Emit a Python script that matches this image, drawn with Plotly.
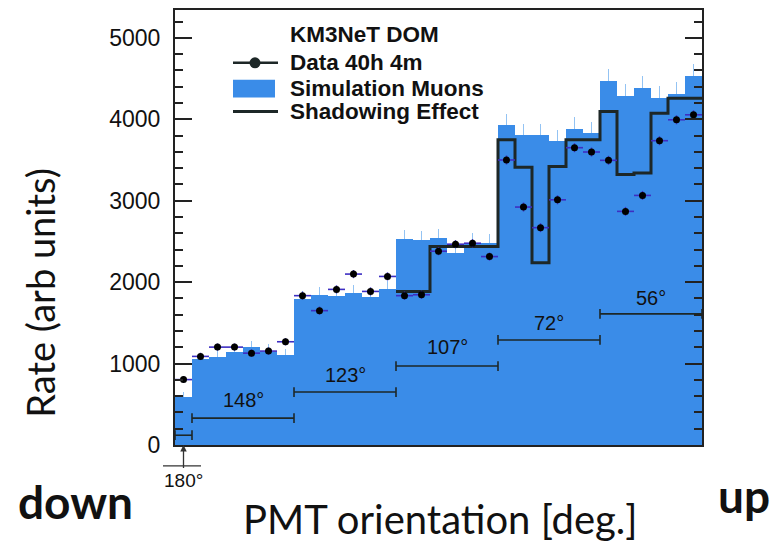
import plotly.graph_objects as go

# ---------------- data ----------------
pmt_index = list(range(31))  # PMT bins ordered from down (180 deg) to up

sim_muons = [590, 1051, 1080, 1137, 1202, 1145, 1104,
             1793, 1846, 1825, 1867, 1813, 1911,
             2534, 2518, 2547, 2363, 2482, 2486,
             3924, 3810, 3802, 3737, 3879, 3830,
             4474, 4287, 4380, 4263, 4312, 4532]
sim_err = [55, 70, 72, 75, 75, 90, 72,
           95, 100, 95, 100, 95, 106,
           106, 110, 110, 105, 120, 110,
           140, 135, 140, 134, 143, 131,
           143, 147, 152, 150, 150, 147]
data_rate = [803, 1088, 1202, 1202, 1128, 1153, 1268,
             1834, 1650, 1911, 2099, 1886, 2070,
             1834, 1845, 2380, 2466, 2478, 2314,
             3500, 2922, 2669, 3011, 3651, 3598,
             3496, 2869, 3065, 3737, 3994, 4055]
data_err = [40, 45, 45, 45, 45, 45, 45,
            50, 50, 50, 50, 50, 50,
            50, 50, 50, 50, 50, 50,
            55, 55, 55, 55, 55, 55,
            55, 55, 55, 55, 55, 55]
shadow_first_bin = 13
shadow_rate = [1886, 1886, 2437, 2437, 2437, 2437,
               3749, 3411, 2237, 3419, 3749, 3749,
               4095, 3321, 3341, 4075, 4258, 4258]

ring_labels = ["180°", "148°", "123°", "107°", "72°", "56°"]
ring_first = [0, 1, 7, 13, 19, 25]
ring_last = [1, 7, 13, 19, 25, 31]
ring_bracket_y = [120, 330, 650, 970, 1290, 1610]
ring_label_y = [0, 550, 856, 1198, 1504, 1809]

BLUE = "#3a8ce8"
LIGHT = "#93c3f3"
DARK = "#1d2727"
PURPLE = "#3d2ec2"

W, H = 775, 542
ML, MR, MT, MB = 175, 73, 8, 97
PW, PH = W - ML - MR, H - MT - MB


def px(xp):
    return (xp - ML) / PW


def py(yp):
    return (H - MB - yp) / PH


centers = [i + 0.5 for i in pmt_index]

fig = go.Figure()

fig.add_trace(go.Bar(
    x=centers, y=sim_muons, width=1.0,
    marker=dict(color=BLUE, line=dict(width=0)),
    error_y=dict(type="data", array=sim_err, arrayminus=[0] * len(sim_err),
                 color=LIGHT, thickness=1.6, width=0),
    showlegend=False, hoverinfo="skip",
))

sx = [i for i in range(shadow_first_bin, shadow_first_bin + len(shadow_rate) + 1)]
sy = shadow_rate + [shadow_rate[-1]]
fig.add_trace(go.Scatter(
    x=sx, y=sy, mode="lines", line=dict(color=DARK, width=3, shape="hv"),
    showlegend=False, hoverinfo="skip", cliponaxis=False,
))

fig.add_trace(go.Scatter(
    x=centers, y=data_rate, mode="markers",
    marker=dict(color="black", size=7),
    error_x=dict(type="constant", value=0.5, color=PURPLE, thickness=1.6, width=0),
    error_y=dict(type="data", array=data_err, color=PURPLE, thickness=1.4, width=0),
    showlegend=False, hoverinfo="skip",
))

shapes = []
annotations = []

# ring brackets
for lab, a, b, yb, yl in zip(ring_labels, ring_first, ring_last, ring_bracket_y, ring_label_y):
    shapes.append(dict(type="line", xref="x", yref="y", x0=a, x1=b, y0=yb, y1=yb,
                       line=dict(color=DARK, width=1.6)))
    for xe in (a, b):
        shapes.append(dict(type="line", xref="x", yref="y", x0=xe, x1=xe,
                           y0=yb - 60, y1=yb + 60, line=dict(color=DARK, width=1.6)))
    if a > 0:
        annotations.append(dict(x=(a + b) / 2, y=yl, xref="x", yref="y", text=lab,
                                showarrow=False, xanchor="center",
                                font=dict(family="Liberation Sans, Arial", size=20, color="#111")))

# 180 deg marker below the axis
annotations.append(dict(x=0.5, y=0, xref="x", yref="y", text="180°", showarrow=True,
                        ax=0, ay=35, arrowhead=2, arrowsize=1, arrowwidth=1.3,
                        arrowcolor="#333", xanchor="center",
                        font=dict(family="Liberation Sans, Arial", size=19, color="#111")))
shapes.append(dict(type="line", xref="paper", yref="paper", x0=px(163), x1=px(201),
                   y0=py(466), y1=py(466), line=dict(color="#333", width=1.3)))

# legend (drawn manually)
lg_font = dict(family="Liberation Sans, Arial", size=22.5, color="#111")
shapes.append(dict(type="line", xref="paper", yref="paper", x0=px(233), x1=px(278),
                   y0=py(61), y1=py(61), line=dict(color=DARK, width=2.5)))
shapes.append(dict(type="circle", xref="paper", yref="paper", x0=px(249.5), x1=px(260.5),
                   y0=py(66.5), y1=py(55.5), fillcolor=DARK, line=dict(color=DARK, width=0)))
shapes.append(dict(type="rect", xref="paper", yref="paper", x0=px(233), x1=px(275),
                   y0=py(96), y1=py(78), fillcolor=BLUE, line=dict(width=0)))
shapes.append(dict(type="line", xref="paper", yref="paper", x0=px(233), x1=px(278),
                   y0=py(110), y1=py(110), line=dict(color=DARK, width=3)))
for txt, yy in [("KM3NeT DOM", 33), ("Data 40h 4m", 61),
                ("Simulation Muons", 87), ("Shadowing Effect", 110)]:
    annotations.append(dict(x=px(288), y=py(yy), xref="paper", yref="paper",
                            text="<b>" + txt + "</b>", showarrow=False,
                            xanchor="left", yanchor="middle", font=lg_font))

# titles
annotations.append(dict(x=px(40), y=py(292), xref="paper", yref="paper",
                        text="Rate (arb units)", textangle=-90, showarrow=False,
                        xanchor="center", yanchor="middle",
                        font=dict(family="Lato, Open Sans", size=38, color="#111")))
annotations.append(dict(x=px(440), y=py(519), xref="paper", yref="paper",
                        text="PMT orientation [deg.]", showarrow=False,
                        xanchor="center", yanchor="middle",
                        font=dict(family="Lato, Open Sans", size=40, color="#111")))
annotations.append(dict(x=px(75), y=py(502), xref="paper", yref="paper",
                        text="<b>down</b>", showarrow=False,
                        xanchor="center", yanchor="middle",
                        font=dict(family="Lato, Open Sans", size=46, color="#111")))
annotations.append(dict(x=px(744), y=py(496), xref="paper", yref="paper",
                        text="<b>up</b>", showarrow=False,
                        xanchor="center", yanchor="middle",
                        font=dict(family="Lato, Open Sans", size=46, color="#111")))

fig.update_layout(
    width=W, height=H,
    margin=dict(l=ML, r=MR, t=MT, b=MB, pad=0),
    paper_bgcolor="white", plot_bgcolor="white",
    bargap=0, showlegend=False,
    shapes=shapes, annotations=annotations,
    xaxis=dict(range=[0, 31], showgrid=False, zeroline=False, showticklabels=False,
               ticks="", showline=True, linecolor="#222", linewidth=2, mirror=True,
               fixedrange=True),
    yaxis=dict(range=[0, 5342], showgrid=False, zeroline=False,
               tickvals=[0, 1000, 2000, 3000, 4000, 5000],
               ticks="inside", ticklen=17, tickwidth=1.5, tickcolor="#222",
               showline=True, linecolor="#222", linewidth=2, mirror="allticks",
               minor=dict(dtick=200, ticks="inside", ticklen=8, tickwidth=1.5, tickcolor="#222"),
               tickfont=dict(family="Liberation Sans, Arial", size=23, color="#111"),
               ticklabelstandoff=8, fixedrange=True),
)

fig.write_html("out.html")
